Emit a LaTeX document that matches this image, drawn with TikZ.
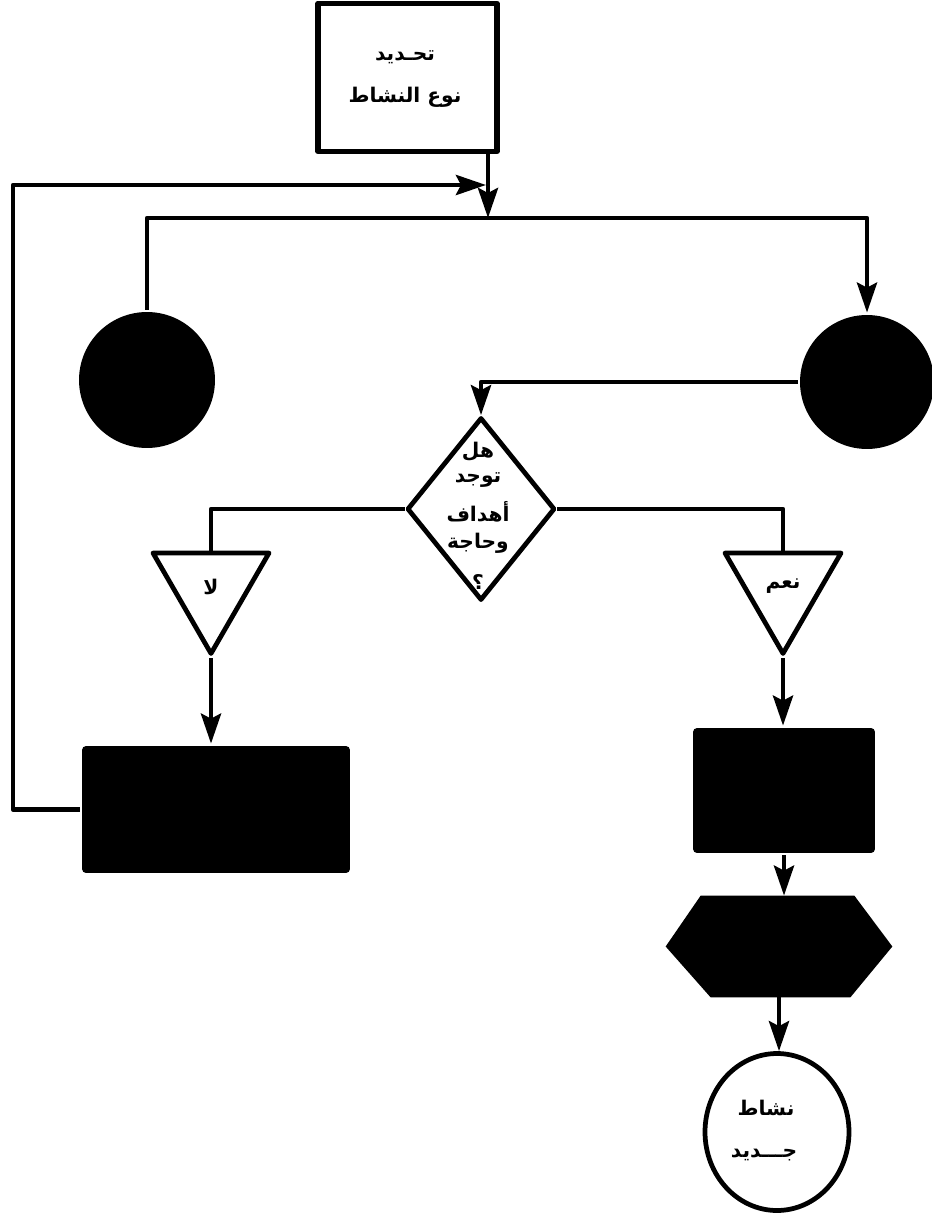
\documentclass[tikz,border=0pt]{standalone}
\usepackage{fontspec}
\usetikzlibrary{shapes.geometric,arrows.meta,calc}
\TeXXeTstate=1
\newfontfamily\arfont[Script=Arabic]{DejaVu Sans}
\newcommand\AR[1]{{\arfont\bfseries\beginR #1\endR}}
\begin{document}
\begin{tikzpicture}[x=0.02cm,y=-0.02cm,
  line width=0.095cm, line join=round,
  arr/.style={-{Stealth[length=0.6cm,width=0.4cm,inset=0.1cm]}},
  blackbox/.style={rectangle, fill=black, rounded corners=0.08cm, inner sep=0},
  blackcirc/.style={circle, fill=black, inner sep=0},
  tri/.style={regular polygon, regular polygon sides=3, shape border rotate=180, draw, minimum size=2.68cm, inner sep=0},
  lbl/.style={font=\fontsize{11.5}{13}\selectfont, inner sep=0},
]
\useasboundingbox (0,0) rectangle (931,1213);
\fill[white] (0,0) rectangle (931,1213);

% nodes
\node[draw, line width=0.11cm, minimum width=3.58cm, minimum height=2.96cm, inner sep=0] (top) at (407.5,77.5) {};
\node[lbl] (t1) at (405,57) {\AR{تحـديد}};
\node[lbl] (t2) at (405,97) {\AR{نوع النشاط}};

\coordinate (j1) at (488,218);
\coordinate (fbA) at (13,185);
\coordinate (fbB) at (486,185);

\node[blackcirc, minimum size=2.72cm] (lc) at (147,380) {};
\node[blackcirc, minimum size=2.68cm] (rc) at (867,382) {};

\node[diamond, draw, minimum width=2.96cm, minimum height=3.66cm, inner sep=0] (dia) at (481,509) {};
\node[lbl] (d1) at (478,452) {\AR{هل}};
\node[lbl] (d2) at (478,480) {\AR{توجد}};
\node[lbl] (d3) at (478,512) {\AR{أهداف}};
\node[lbl] (d4) at (478,543) {\AR{وحاجة}};
\node[lbl] (d5) at (478,582) {\AR{؟}};

\node[tri, lbl] (lt) at (211,586.5) {\AR{لا}};
\node[tri, lbl] (rt) at (783,586.5) {\AR{نعم}};

\node[blackbox, minimum width=5.36cm, minimum height=2.54cm] (lr) at (216,809.5) {};
\node[blackbox, minimum width=3.64cm, minimum height=2.5cm] (rr) at (784,790.5) {};

\node[minimum width=4.44cm, minimum height=1.94cm, inner sep=0] (hex) at (779,946.5) {};
\fill (hex.west) -- ($(hex.north west)+(35,0)$) -- ($(hex.north east)+(-38,0)$) -- (hex.east) -- ($(hex.south east)+(-42,0)$) -- ($(hex.south west)+(45,0)$) -- cycle;

\node[ellipse, draw, minimum width=2.88cm, minimum height=3.14cm, inner sep=0] (bc) at (777,1132) {};
\node[lbl] (b1) at (766,1108) {\AR{نشاط}};
\node[lbl] (b2) at (764,1155) {\AR{جـــديد}};

% connectors
\draw[arr] (top.south -| j1) -- (j1);
\draw[arr] (lc.north) |- (j1) -| (rc.north);
\draw[arr] (lr.west) -| (fbA) -- (fbB);
\draw[arr] (rc.west) -| (dia.north);
\draw (dia.west) -| (lt.north);
\draw (dia.east) -| (rt.north);
\draw[arr] (lt.south) -- (lt.south |- lr.north);
\draw[arr] (rt.south) -- (rt.south |- rr.north);
\draw[arr] (rr.south) -- (rr.south |- hex.north);
\draw[arr] (hex.south) -- (hex.south |- bc.north);
\end{tikzpicture}
\end{document}
